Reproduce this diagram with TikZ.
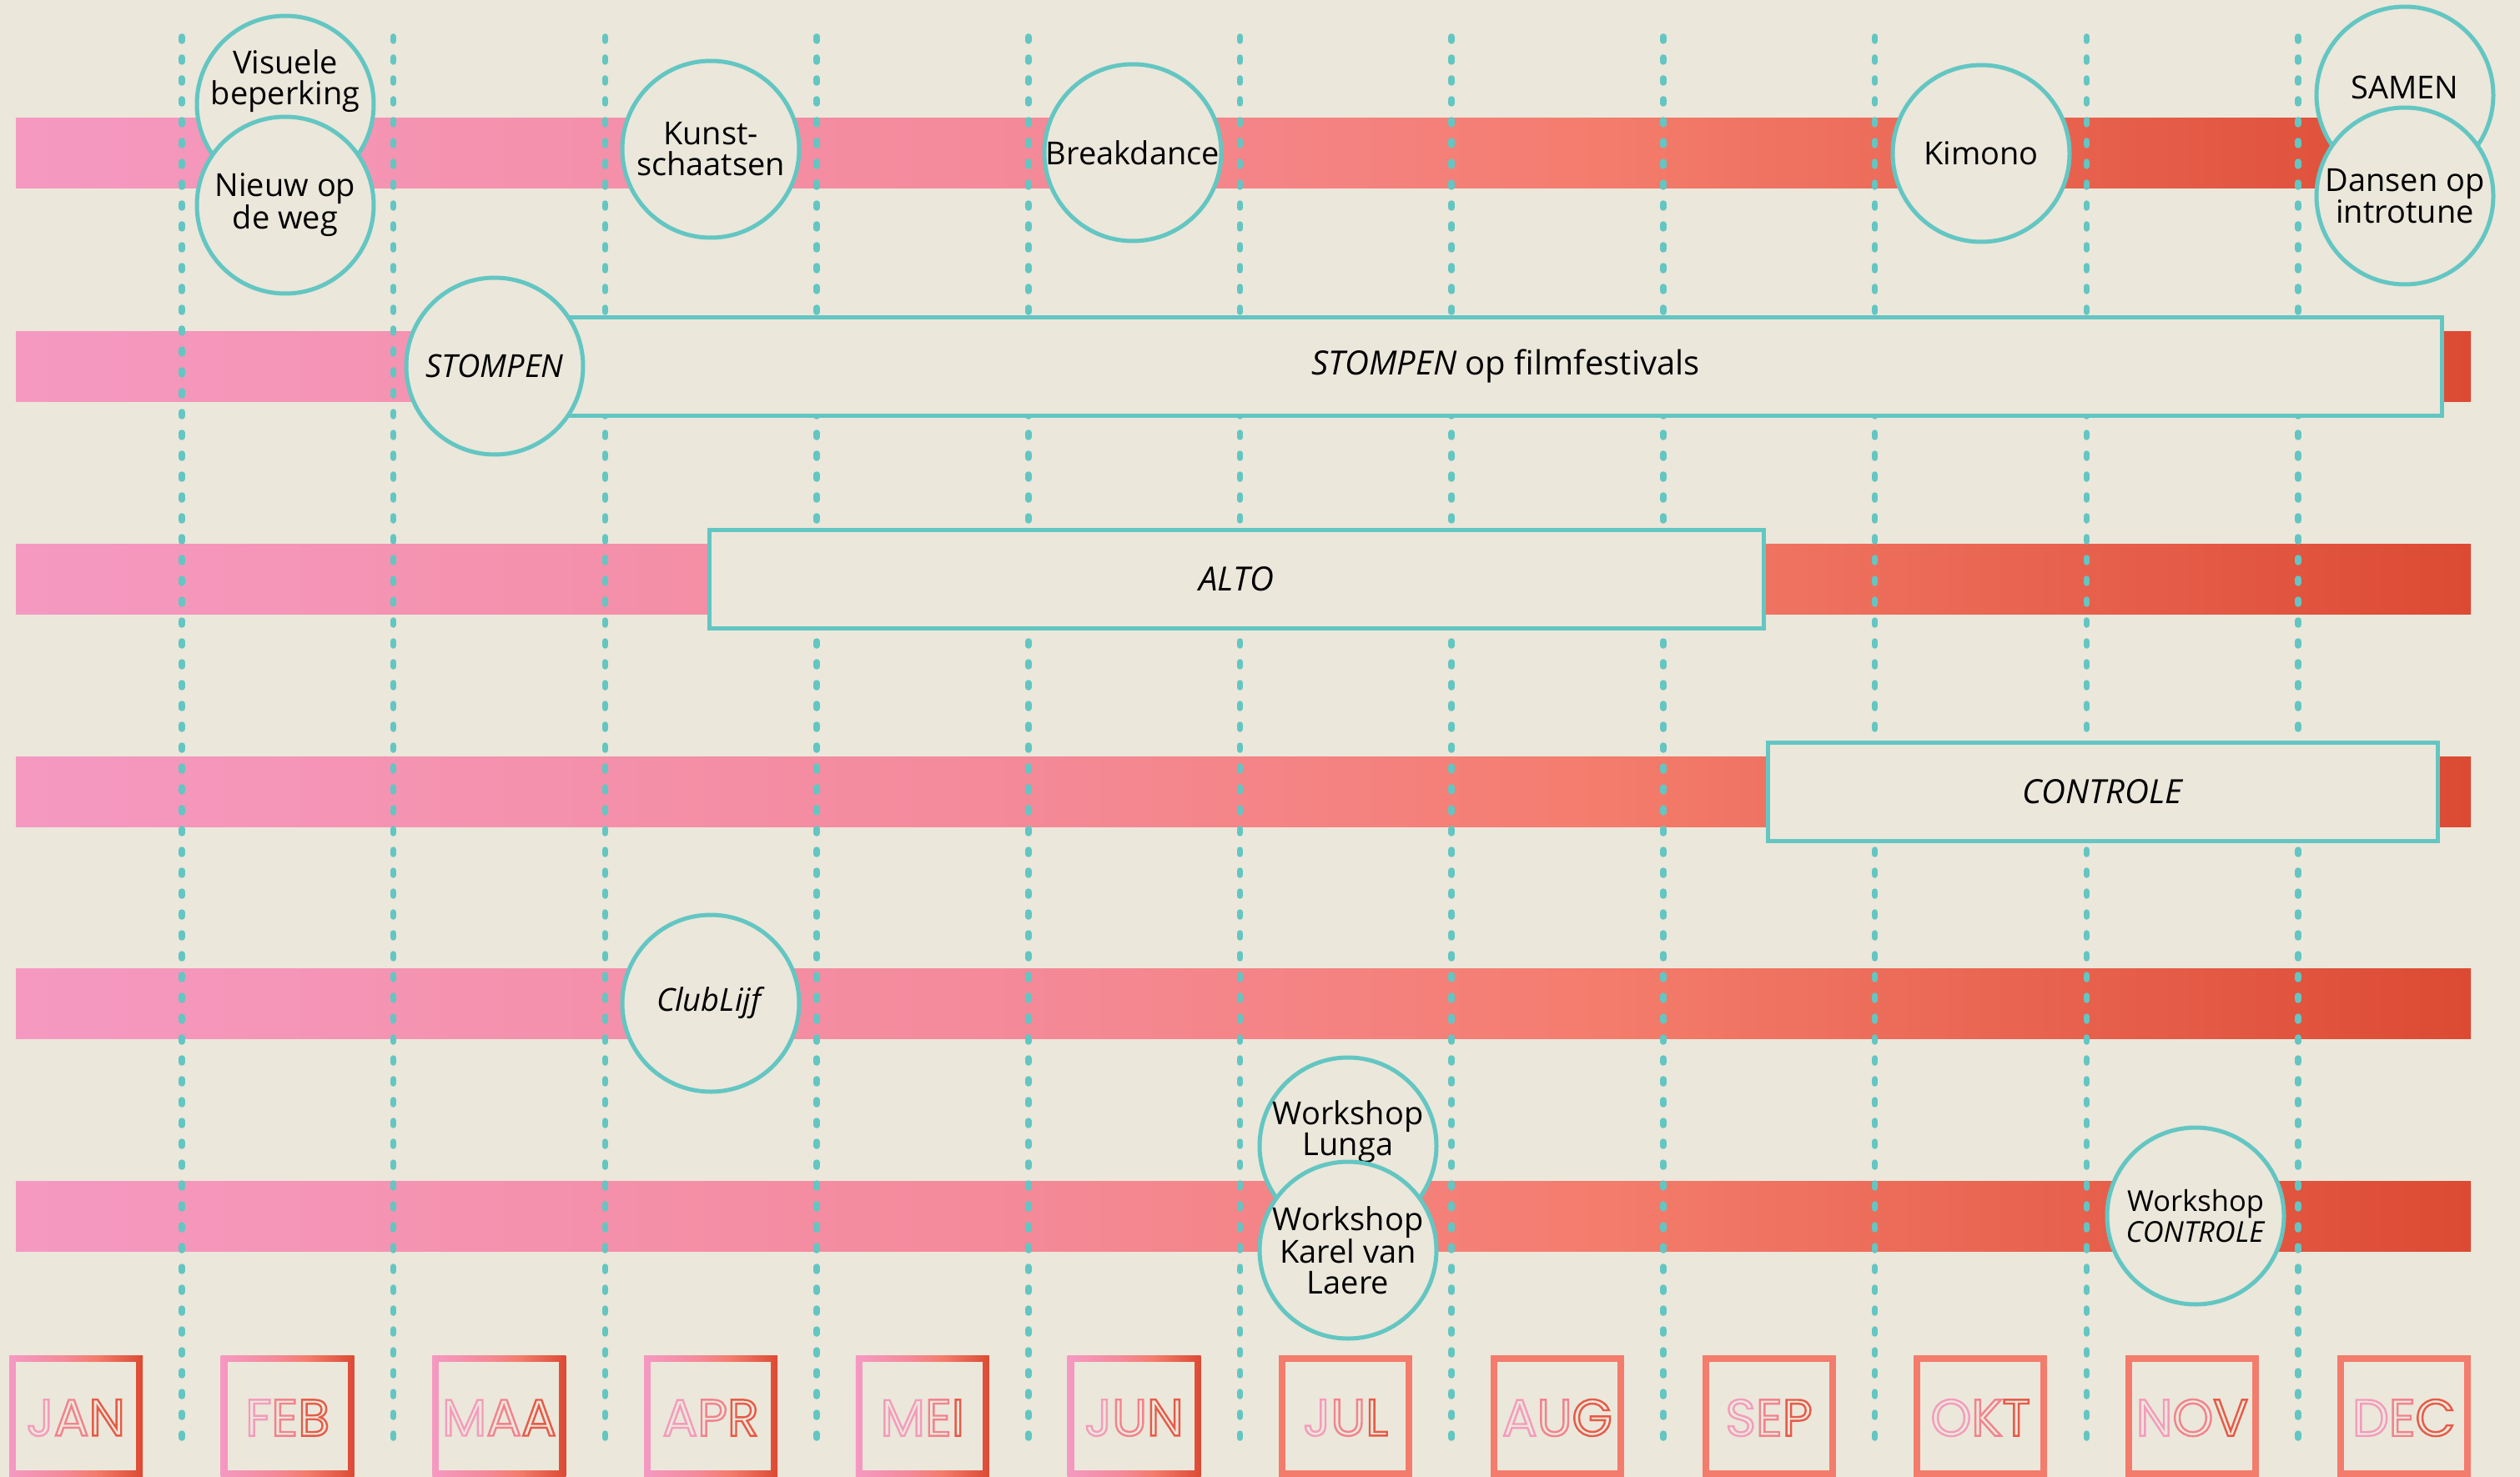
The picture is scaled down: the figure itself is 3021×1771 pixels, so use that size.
\documentclass[tikz,border=0pt]{standalone}
\usepackage{fontspec}
\setmainfont{Open Sans}
\newfontfamily\monthfam{Poppins}

\definecolor{bgc}{HTML}{EBE7DB}
\definecolor{tealc}{HTML}{63C6C2}
\definecolor{pinkc}{HTML}{F599C2}
\definecolor{rosec}{HTML}{F48A9A}
\definecolor{salmonc}{HTML}{F47C6C}
\definecolor{redc}{HTML}{DC4A33}
\definecolor{lpinkc}{HTML}{F49CBC}
\definecolor{lrosec}{HTML}{F2838E}
\definecolor{lredc}{HTML}{E65B48}

% gradient van roze naar rood (middelste 25bp-75bp vult het pad)
\pgfdeclarehorizontalshading{barshade}{100bp}{color(0bp)=(pinkc); color(25bp)=(pinkc); color(45bp)=(rosec); color(57.5bp)=(salmonc); color(75bp)=(redc); color(100bp)=(redc)}

% holle letters voor de maanden
\newcommand\outlined[1]{\special{pdf:literal direct 1 Tr 2.4 w}#1\special{pdf:literal direct 0 Tr}}

\tikzset{
  event/.style={circle, draw=tealc, fill=bgc, line width=5pt, minimum size=212pt, inner sep=0pt, align=center, font=\fontsize{38}{37}\selectfont},
  eventtxt/.style={align=center, inner sep=0pt, font=\fontsize{38}{37}\selectfont},
  period/.style={draw=tealc, fill=bgc, line width=5pt, minimum height=118pt, inner sep=0pt, font=\fontsize{40}{40}\selectfont},
  monthlbl/.style={inner sep=0pt, font=\monthfam\fontsize{62}{62}\selectfont},
  dots/.style={tealc, line width=7.5pt, line cap=round, dash pattern=on 5pt off 20pt}
}

\begin{document}
\begin{tikzpicture}[x=1pt, y=-1pt]
    % Achtergrond
    \fill[bgc] (0,0) rectangle (3021,1771);
    \useasboundingbox (0,0) rectangle (3021,1771);

    % Balken per rij
    \foreach \r in {184, 439, 694, 949, 1203, 1458} {
        \shade[shading=barshade] (19,\r-42) rectangle (2962,\r+42);
    }

    % Stippellijnen tussen de maanden
    \foreach \i in {0,...,10} {
        \draw[dots] ({218+253.7*\i},44) -- ({218+253.7*\i},1736);
    }

    % Maanden onderaan
    \foreach \a/\b/\c [count=\i from 0] in {J/A/N, F/E/B, M/A/A, A/P/R, M/E/I, J/U/N, J/U/L, A/U/G, S/E/P, O/K/T, N/O/V, D/E/C} {
        \pgfmathsetmacro\mx{91+253.7*\i}
        \ifnum\i<6
            \shade[shading=barshade] (\mx-80,1625) rectangle (\mx+80,1771);
        \else
            \fill[salmonc] (\mx-80,1625) rectangle (\mx+80,1771);
        \fi
        \fill[bgc] (\mx-72,1633) rectangle (\mx+72,1763);
        \node[monthlbl] (m\i) at (\mx,1700) {\outlined{\color{lpinkc}\a\color{lrosec}\b\color{lredc}\c}};
    }

    % Periodes
    \node[period, minimum width=2245pt] (festivals) at (1805,439) {\textit{STOMPEN} op filmfestivals};
    \node[period, minimum width=1264pt] (alto) at (1482.5,694) {\textit{ALTO}};
    \node[period, minimum width=803pt] (controle) at (2521,949) {\textit{CONTROLE}};

    % Rij 1
    \node[event] (visuele) at (342,125) {};
    \node[eventtxt] (visueletxt) at ([yshift=28pt]visuele.center) {Visuele\\beperking};
    \node[event] (nieuw) at (342,246) {Nieuw op\\de weg};
    \node[event] (kunst) at (852,179) {Kunst-\\schaatsen};
    \node[event] (breakdance) at (1358,183) {Breakdance};
    \node[event] (kimono) at (2375,184) {Kimono};
    \node[event] (samen) at (2883,114) {};
    \node[eventtxt] (samentxt) at ([yshift=9pt]samen.center) {SAMEN};
    \node[event] (dansen) at (2883,235) {Dansen op\\introtune};

    % Rij 2 en 5
    \node[event] (stompen) at (593,439) {\textit{STOMPEN}};
    \node[event] (clublijf) at (852,1203) {\textit{ClubLijf}};

    % Rij 6: workshops
    \node[event] (lunga) at (1616,1374) {};
    \node[eventtxt] (lungatxt) at ([yshift=17pt]lunga.center) {Workshop\\Lunga};
    \node[event] (karel) at (1616,1499) {Workshop\\Karel van\\Laere};
    \node[event, font=\fontsize{34.5}{37}\selectfont] (wscontrole) at (2632,1458) {Workshop\\\textit{CONTROLE}};
\end{tikzpicture}
\end{document}
